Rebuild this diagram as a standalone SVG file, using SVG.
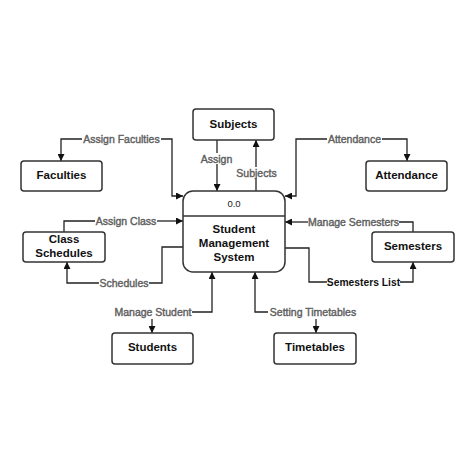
<svg xmlns="http://www.w3.org/2000/svg" width="474" height="474" viewBox="0 0 474 474">
<style>
.box{fill:#fff;stroke:#333;stroke-width:1.5}
.nt{font-family:"Liberation Sans",Arial,sans-serif;font-size:11.5px;font-weight:bold;fill:#111;text-anchor:middle}
.lb{font-family:"Liberation Sans",Arial,sans-serif;font-size:10.5px;fill:#5e5e5e;stroke:#5e5e5e;stroke-width:0.4;text-anchor:middle}
.ln{fill:none;stroke:#222;stroke-width:1.3}
</style>
<defs>
<marker id="ar" viewBox="0 0 10 10" refX="10" refY="5" markerWidth="7" markerHeight="7" markerUnits="userSpaceOnUse" orient="auto">
<path d="M0,0 L10,5 L0,10 z" fill="#111"/>
</marker>
</defs>
<rect width="474" height="474" fill="#fff"/>
<g id="connectors">
<path class="ln" d="M161,139 H172 V196 H183" marker-end="url(#ar)"/>
<path class="ln" d="M82,139 H61 V161" marker-end="url(#ar)"/>
<text class="lb" x="121.5" y="142.8">Assign Faculties</text>
<path class="ln" d="M217,140 V153"/>
<path class="ln" d="M217,164 V191" marker-end="url(#ar)"/>
<text class="lb" x="216.5" y="162.5">Assign</text>
<path class="ln" d="M256,191 V178"/>
<path class="ln" d="M256,167 V140" marker-end="url(#ar)"/>
<text class="lb" x="256.5" y="176.5">Subjects</text>
<path class="ln" d="M327,139 H296 V196 H285" marker-end="url(#ar)"/>
<path class="ln" d="M382,139 H407 V161" marker-end="url(#ar)"/>
<text class="lb" x="354.5" y="142.8">Attendance</text>
<path class="ln" d="M64,232 V221 H95"/>
<path class="ln" d="M157,221 H183" marker-end="url(#ar)"/>
<text class="lb" x="126" y="224.8">Assign Class</text>
<path class="ln" d="M183,247 H162 V283 H149"/>
<path class="ln" d="M99,283 H67 V262" marker-end="url(#ar)"/>
<text class="lb" x="124" y="286.8">Schedules</text>
<path class="ln" d="M192,312 H212 V272" marker-end="url(#ar)"/>
<path class="ln" d="M152,319 V333" marker-end="url(#ar)"/>
<text class="lb" x="153" y="315.8">Manage Student</text>
<path class="ln" d="M268,312 H255 V272" marker-end="url(#ar)"/>
<path class="ln" d="M316,319 V333" marker-end="url(#ar)"/>
<text class="lb" x="313" y="315.8">Setting Timetables</text>
<path class="ln" d="M413,232 V222 H399"/>
<path class="ln" d="M308,222 H285" marker-end="url(#ar)"/>
<text class="lb" x="353.5" y="225.8">Manage Semesters</text>
<path class="ln" d="M285,248 H309 V282 H327"/>
<path class="ln" d="M400,282 H413 V262" marker-end="url(#ar)"/>
<text class="lb" x="363.5" y="285.8" style="fill:#111;stroke:none;font-weight:bold;font-size:10.3px">Semesters List</text>
</g>
<g id="main">
<rect class="box" x="183" y="191" width="102" height="81" rx="10"/>
<line x1="183" y1="216" x2="285" y2="216" stroke="#333" stroke-width="1.3"/>
<text x="234" y="206.5" style="font-family:'Liberation Sans',Arial,sans-serif;font-size:9.5px;fill:#222;text-anchor:middle">0.0</text>
<text class="nt" x="234" y="233">Student</text>
<text class="nt" x="234" y="247">Management</text>
<text class="nt" x="234" y="261">System</text>
</g>
<g id="subjects">
<rect class="box" x="193" y="109" width="81" height="31" rx="3"/>
<text class="nt" x="233.5" y="128">Subjects</text>
</g>
<g id="faculties">
<rect class="box" x="21" y="161" width="81" height="30" rx="3"/>
<text class="nt" x="61.5" y="178.5">Faculties</text>
</g>
<g id="attendance">
<rect class="box" x="366" y="161" width="81" height="30" rx="3"/>
<text class="nt" x="406.5" y="178.5">Attendance</text>
</g>
<g id="class-schedules">
<rect class="box" x="23" y="232" width="82" height="30" rx="3"/>
<text class="nt" x="64" y="243">Class</text>
<text class="nt" x="64" y="256.5">Schedules</text>
</g>
<g id="semesters">
<rect class="box" x="372" y="232" width="82" height="30" rx="3"/>
<text class="nt" x="413" y="249.5">Semesters</text>
</g>
<g id="students">
<rect class="box" x="112" y="333" width="81" height="31" rx="3"/>
<text class="nt" x="152.5" y="351">Students</text>
</g>
<g id="timetables">
<rect class="box" x="274" y="333" width="82" height="31" rx="3"/>
<text class="nt" x="315" y="351">Timetables</text>
</g>
</svg>
